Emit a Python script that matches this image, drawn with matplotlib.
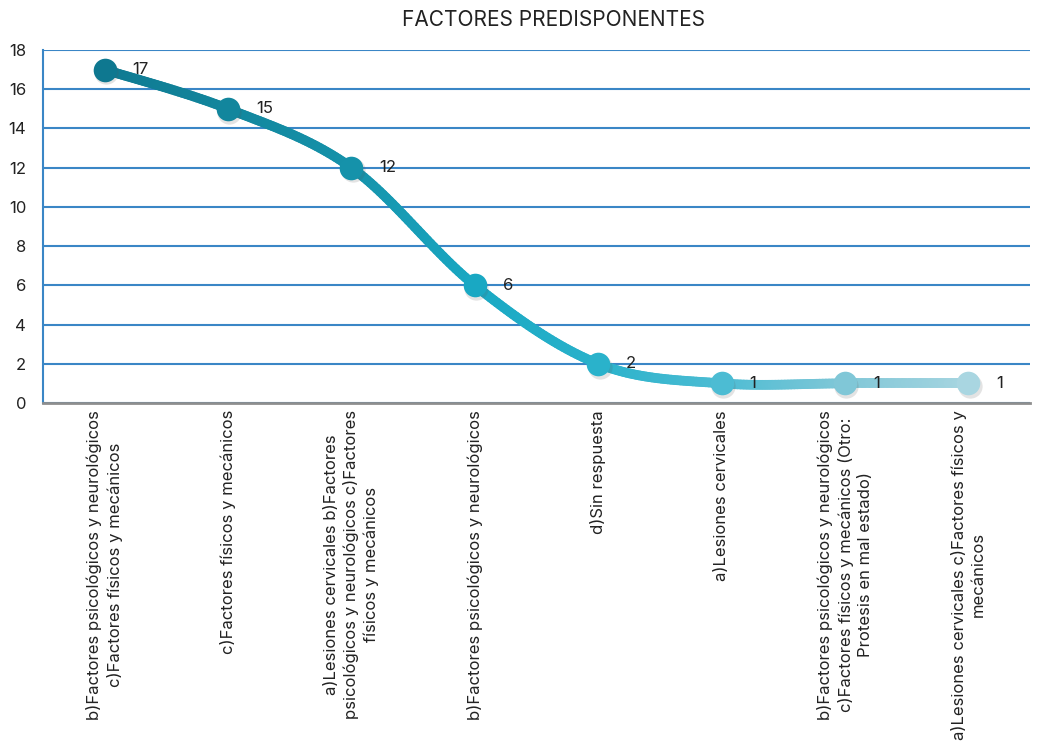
import numpy as np
import matplotlib
matplotlib.use("Agg")
import matplotlib.pyplot as plt
from matplotlib.collections import LineCollection
from matplotlib.colors import to_rgb
import matplotlib.transforms as mtransforms

categories = [
    "b)Factores psicológicos y neurológicos\nc)Factores físicos y mecánicos",
    "c)Factores físicos y mecánicos",
    "a)Lesiones cervicales b)Factores\npsicológicos y neurológicos c)Factores\nfísicos y mecánicos",
    "b)Factores psicológicos y neurológicos",
    "d)Sin respuesta",
    "a)Lesiones cervicales",
    "b)Factores psicológicos y neurológicos\nc)Factores físicos y mecánicos (Otro:\nProtesis en mal estado)",
    "a)Lesiones cervicales c)Factores físicos y\nmecánicos",
]
values = [17, 15, 12, 6, 2, 1, 1, 1]
point_colors = ["#0e7890", "#12869d", "#1592aa", "#19a8c3", "#2ab2cb", "#4cbcd3", "#80c7d7", "#a9d6e1"]
title = "FACTORES PREDISPONENTES"
yticks = [0, 2, 4, 6, 8, 10, 12, 14, 16, 18]

FONT = ["Inter", "DejaVu Sans"]
plt.rcParams['font.family'] = FONT

fig = plt.figure(figsize=(10.38, 7.46), dpi=100)
ax = fig.add_axes([43/1038, 1-403/746, (1030-43)/1038, (403-50)/746])

x = np.arange(len(values), dtype=float)
y = np.array(values, dtype=float)

# Catmull-Rom style smoothing (like spreadsheet smoothed lines)
pts = np.column_stack([x, y])
ext = np.vstack([pts[0], pts, pts[-1]])
curve = []
cols = []
rgb = np.array([to_rgb(c) for c in point_colors])
for i in range(len(pts) - 1):
    p0, p1, p2, p3 = ext[i], ext[i+1], ext[i+2], ext[i+3]
    c1 = p1 + (p2 - p0) / 6
    c2 = p2 - (p3 - p1) / 6
    t = np.linspace(0, 1, 40)[:, None]
    seg = (1-t)**3*p1 + 3*(1-t)**2*t*c1 + 3*(1-t)*t**2*c2 + t**3*p2
    curve.append(seg if i == 0 else seg[1:])
    cc = (1-t)*rgb[i] + t*rgb[i+1]
    cols.append(cc if i == 0 else cc[1:])
curve = np.vstack(curve)
cols = np.vstack(cols)
segs = np.stack([curve[:-1], curve[1:]], axis=1)
lc = LineCollection(segs, colors=cols[:-1], linewidths=7, capstyle='round', zorder=3)
ax.add_collection(lc)

# markers with soft shadow
shadow_tr = mtransforms.offset_copy(ax.transData, fig=fig, x=1, y=-2, units='points')
for xi, yi, c in zip(x, y, point_colors):
    ax.plot([xi], [yi], 'o', ms=17.5, color='#555555', mec='none', alpha=0.16,
            transform=shadow_tr, zorder=3.5)
    ax.plot([xi], [yi], 'o', ms=17, color=c, mec='none', zorder=4)
    ax.annotate(str(int(yi)), (xi, yi), xytext=(28, 0), textcoords='offset pixels',
                ha='left', va='center', fontsize=12, color='#222222', zorder=5)

ax.set_xlim(-0.5, len(values) - 0.5)
ax.set_ylim(0, 18)
ax.set_yticks(yticks)
ax.set_yticklabels([str(v) for v in yticks], fontsize=12, color='#222222')
ax.set_xticks(x)
ax.set_xticklabels(categories, rotation=90, va='top', ha='center', multialignment='center',
                   fontsize=12, color='#222222', linespacing=1.35)
ax.tick_params(axis='both', length=0)
ax.tick_params(axis='x', pad=5)
ax.tick_params(axis='y', pad=12)

ax.grid(axis='y', color='#3a86c6', linewidth=1.5)
ax.set_axisbelow(True)
for s in ['top', 'right']:
    ax.spines[s].set_visible(False)
ax.spines['left'].set_color('#3a86c6')
ax.spines['left'].set_linewidth(1.5)
ax.spines['bottom'].set_color('#8e8e8e')
ax.spines['bottom'].set_linewidth(2)

fig.text(553/1038, 1-20/746, title, ha='center', va='center', fontsize=15, color='#222222')

fig.savefig("out.png", dpi=100)
